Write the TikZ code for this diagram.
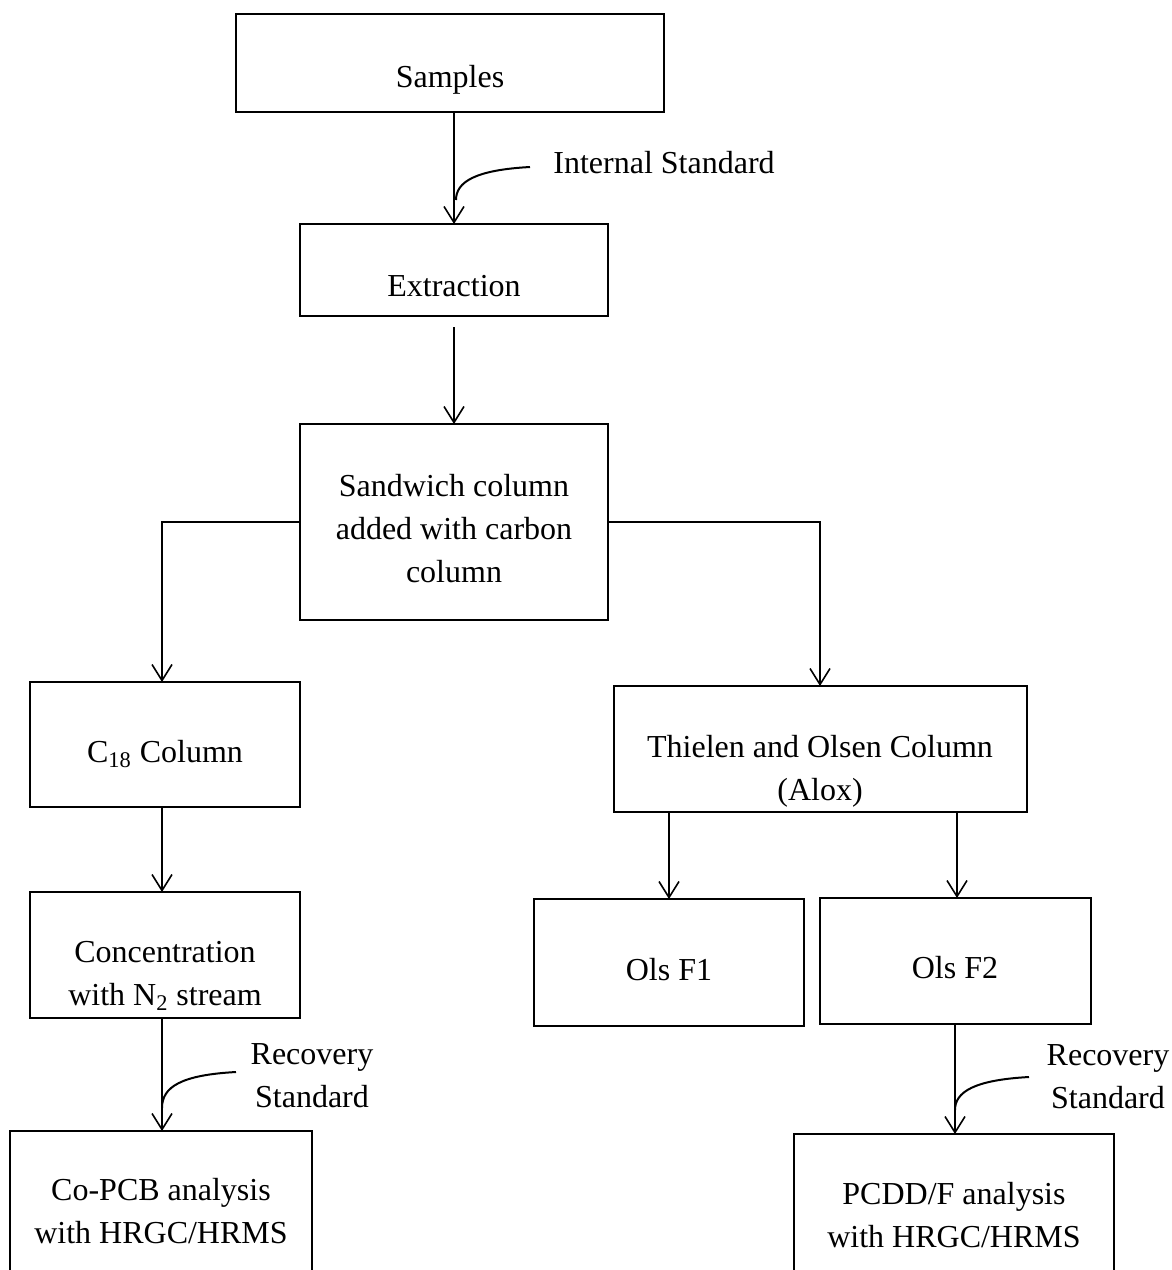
\documentclass[tikz,border=0pt]{standalone}
\usepackage{fontspec}
\setmainfont{Liberation Serif}
\usetikzlibrary{arrows.meta}
\begin{document}
\begin{tikzpicture}[x=0.5pt,y=-0.5pt,
  thickbox/.style={draw, line width=1pt, minimum width=#1, outer sep=0pt, inner sep=0pt},
  thinbox/.style={draw, line width=0.6pt, minimum width=#1, outer sep=0pt, inner sep=0pt},
  txt/.style={anchor=base, align=center, inner sep=0pt, font=\fontsize{16}{21.3}\selectfont},
  arr/.style={line width=0.8pt, -{Straight Barb[length=8pt,width=10pt,line width=0.8pt]}},
  feed/.style={line width=1pt}]
\clip (0,0) rectangle (1172,1270);
\fill[white] (0,0) rectangle (1172,1270);
% boxes
\node[thickbox=214pt, minimum height=49pt] (samples) at (450,63) {};
\node[thickbox=154pt, minimum height=46pt] (extraction) at (454,270) {};
\node[thickbox=154pt, minimum height=98pt] (sandwich) at (454,522) {};
\node[thinbox=135pt, minimum height=62.5pt] (c18) at (165,744.5) {};
\node[thinbox=135pt, minimum height=63pt] (conc) at (165,955) {};
\node[thinbox=151pt, minimum height=84.5pt] (copcb) at (161,1215.5) {};
\node[thinbox=206.5pt, minimum height=63pt] (thielen) at (820.5,749) {};
\node[thinbox=135pt, minimum height=63.5pt] (olsf1) at (669,962.5) {};
\node[thinbox=135.5pt, minimum height=63pt] (olsf2) at (955.5,961) {};
\node[thinbox=160pt, minimum height=83pt] (pcdd) at (954,1217) {};
% texts (multi-line texts are placed by the baseline of their last line)
\node[txt] (samplesT) at (450,87) {Samples};
\node[txt] (extractionT) at (454,296) {Extraction};
\node[txt] (sandwichT) at (454,582) {Sandwich column\\added with carbon\\column};
\node[txt] (c18T) at (165,762) {C\textsubscript{18} Column};
\node[txt] (concT) at (165,1005) {Concentration\\with N\textsubscript{2} stream};
\node[txt] (copcbT) at (161,1243) {Co-PCB analysis\\with HRGC/HRMS};
\node[txt] (thielenT) at (820,800) {Thielen and Olsen Column\\(Alox)};
\node[txt] (olsf1T) at (669,980) {Ols F1};
\node[txt] (olsf2T) at (955,978) {Ols F2};
\node[txt] (pcddT) at (954,1247) {PCDD/F analysis\\with HRGC/HRMS};
\node[txt, anchor=base west] (internal) at (553,173) {Internal Standard};
\node[txt] (recL) at (312,1107) {Recovery\\Standard};
\node[txt] (recR) at (1108,1108) {Recovery\\Standard};
% feed coordinates
\coordinate (is1) at (530,167);
\coordinate (rs1) at (236,1072);
\coordinate (rs2) at (1029,1077);
% main arrows
\draw[arr] (samples.south -| extraction.north) -- (extraction.north);
\draw[arr] ([yshift=-5.5pt]extraction.south) -- (sandwich.north);
\draw[arr] (sandwich.west) -| ([xshift=-1.5pt]c18.north);
\draw[arr] (sandwich.east) -| ([xshift=-0.25pt]thielen.north);
\draw[arr] ([xshift=-1.5pt]c18.south) -- ([xshift=-1.5pt]conc.north);
\draw[arr] ([xshift=-1.5pt]conc.south) -- ([xshift=-1.5pt]conc.south |- copcb.north);
\draw[arr] (thielen.south -| olsf1.north) -- (olsf1.north);
\draw[arr] (thielen.south -| 957,0) -- (olsf2.north -| 957,0);
\draw[arr] (olsf2.south -| 955,0) -- (pcdd.north -| 955,0);
% feed curves
\draw[feed] (is1) .. controls (475,170) and (456,182) .. (456,200);
\draw[feed] (rs1) .. controls (181,1075) and (162,1087) .. (162,1108);
\draw[feed] (rs2) .. controls (974,1080) and (955,1092) .. (955,1110);
\end{tikzpicture}
\end{document}
